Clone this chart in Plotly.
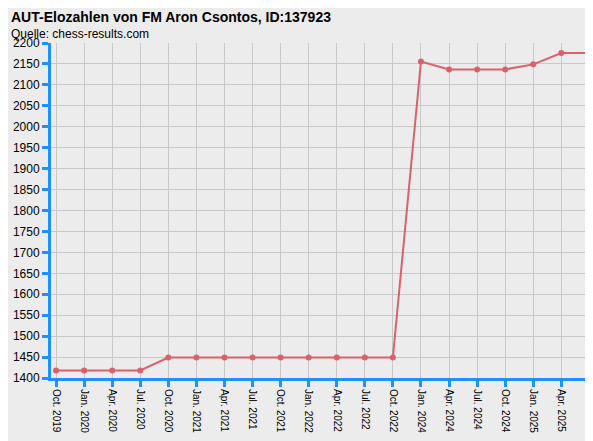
import plotly.graph_objects as go

dates = ["Oct. 2019", "Jan. 2020", "Apr. 2020", "Jul. 2020", "Oct. 2020", "Jan. 2021",
         "Apr. 2021", "Jul. 2021", "Oct. 2021", "Jan. 2022", "Apr. 2022", "Jul. 2022",
         "Oct. 2022", "Jan. 2024", "Apr. 2024", "Jul. 2024", "Oct. 2024", "Jan. 2025",
         "Apr. 2025", "Jul. 2025"]
elo = [1418, 1418, 1418, 1418, 1449, 1449, 1449, 1449, 1449, 1449, 1449, 1449,
       1449, 2156, 2137, 2137, 2137, 2149, 2176, 2176]
yticks = list(range(1400, 2201, 50))

blue = "#1e90ff"
fig = go.Figure()
fig.add_trace(go.Scatter(
    x=dates, y=elo, mode="lines+markers",
    line=dict(color="#d9626a", width=2),
    marker=dict(color="#d9626a", size=6),
))
fig.update_layout(
    width=593, height=441,
    paper_bgcolor="#ececec", plot_bgcolor="#ececec",
    margin=dict(l=43, r=6, t=35, b=71, autoexpand=False),
    showlegend=False,
    font=dict(family="Liberation Sans, Arial", size=12, color="black"),
    annotations=[
        dict(text="<b>AUT-Elozahlen von FM Aron Csontos, ID:137923</b>", x=0, y=1,
             xref="paper", yref="paper", xanchor="left", yanchor="bottom",
             xshift=-42, yshift=16, showarrow=False, font=dict(size=14)),
        dict(text="Quelle: chess-results.com", x=0, y=1,
             xref="paper", yref="paper", xanchor="left", yanchor="bottom",
             xshift=-42, yshift=0, showarrow=False, font=dict(size=12)),
    ],
)
fig.update_xaxes(
    type="category", range=[-0.18, 19.2], tickangle=90, automargin=False,
    showline=True, linecolor=blue, linewidth=3,
    ticks="outside", tickcolor=blue, tickwidth=3, ticklen=6,
    showgrid=True, gridcolor="#c8c8c8", tickfont=dict(size=10),
)
fig.update_yaxes(
    range=[1400, 2200], tickvals=yticks, automargin=False,
    showline=True, linecolor=blue, linewidth=3,
    ticks="outside", tickcolor=blue, tickwidth=3, ticklen=6,
    showgrid=True, gridcolor="#c8c8c8", tickfont=dict(size=12),
)
fig.write_html("out.html")
